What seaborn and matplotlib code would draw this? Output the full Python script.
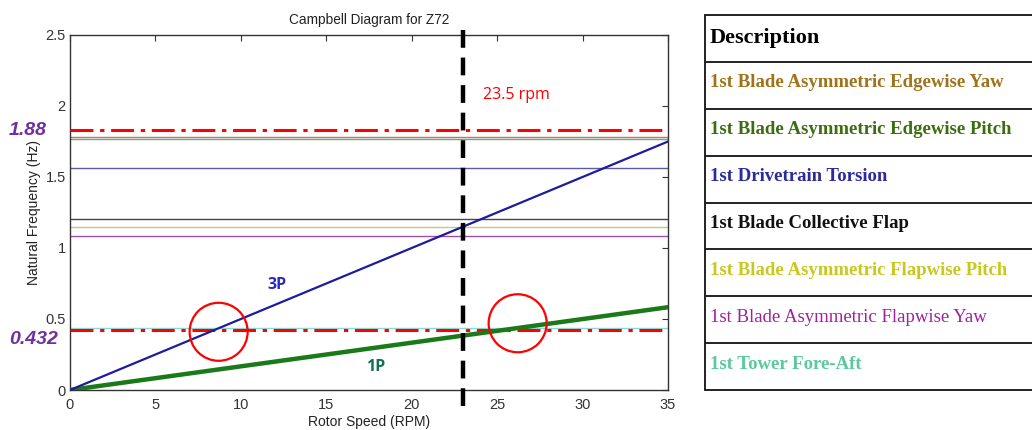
import matplotlib
matplotlib.use("Agg")
import matplotlib.pyplot as plt
import seaborn as sns
import pandas as pd

# rotor speed excitation lines (endpoints)
rpm = [0, 35]
p1_hz = [0, 0.583]
p3_hz = [0, 1.75]

# natural frequencies of the modes (Hz) and their colours
mode_names = ['1st Blade Asymmetric Edgewise Yaw', '1st Blade Asymmetric Edgewise Pitch',
              '1st Drivetrain Torsion', '1st Blade Collective Flap',
              '1st Blade Asymmetric Flapwise Pitch', '1st Blade Asymmetric Flapwise Yaw',
              '1st Tower Fore-Aft']
mode_freqs = [1.784, 1.765, 1.566, 1.202, 1.150, 1.085, 0.439]
mode_line_colors = ['#b87a60', '#7fa07f', '#5a5aa8', '#454545', '#c8c878', '#a050a8', '#8cd8d8']
mode_text_colors = ['#a0721a', '#3c6e10', '#2b2b9a', '#111111', '#c8c81e', '#a020a0', '#5cc8a0']
mode_bold = [True, True, True, True, True, False, True]

# limits and markers
limit_freqs = [1.83, 0.42]
limit_labels = ['1.88', '0.432']
limit_label_y = [131, 340]   # pixel rows of the side labels
rated_rpm = 23.0
rated_label = '23.5 rpm'
circle_x = [8.7, 26.2]
circle_y = [0.41, 0.47]

sns.set_style("white")
plt.rcParams['font.family'] = ['Liberation Sans', 'DejaVu Sans']

fig = plt.figure(figsize=(10.32, 4.30), dpi=100)
ax = fig.add_axes([70 / 1032, 40 / 430, 598 / 1032, 355 / 430])

for f, c in zip(mode_freqs, mode_line_colors):
    ax.axhline(f, color=c, lw=1.0, zorder=2)

lines = pd.DataFrame({'rpm': rpm + rpm, 'hz': p1_hz + p3_hz, 'order': ['1P', '1P', '3P', '3P']})
sns.lineplot(data=lines[lines.order == '1P'], x='rpm', y='hz', color='#1a7a1a', lw=3.2, ax=ax, zorder=4)
sns.lineplot(data=lines[lines.order == '3P'], x='rpm', y='hz', color='#1c1c9c', lw=1.6, ax=ax, zorder=4)

for f in limit_freqs:
    ax.axhline(f, color='#ff0000', lw=2.2, linestyle=(0, (7.5, 2.2, 1.4, 2.2)), zorder=3)

ax.plot([rated_rpm, rated_rpm], [-0.11, 2.57], color='black', lw=3.2,
        linestyle=(0, (4, 2.2)), clip_on=False, zorder=5)

sns.scatterplot(x=circle_x, y=circle_y, s=1745, marker='o', facecolor='none',
                edgecolor='#ff0000', linewidth=1.6, ax=ax, zorder=6)

ax.text(12.1, 0.74, '3P', color='#2a2ac0', fontsize=11.5, fontweight='bold',
        family=['Open Sans'], ha='center', va='center')
ax.text(17.9, 0.165, '1P', color='#127050', fontsize=11.5, fontweight='bold',
        family=['Open Sans'], ha='center', va='center')
ax.text(24.2, 2.08, rated_label, color='#ff0000', fontsize=11.5,
        family=['Open Sans'], ha='left', va='center')

for lab, py in zip(limit_labels, limit_label_y):
    fig.text(9 / 1032, 1 - py / 430, lab, color='#7030a0', fontsize=14,
             fontweight='bold', style='italic', family=['Liberation Sans'],
             ha='left', va='center')

ax.set_xlim(0, 35)
ax.set_ylim(0, 2.5)
ax.set_xticks(range(0, 36, 5))
ax.set_yticks([0, 0.5, 1, 1.5, 2, 2.5])
ax.set_yticklabels(['0', '0.5', '1', '1.5', '2', '2.5'])
ax.tick_params(direction='in', length=4, width=0.8, top=True, right=True,
               labelsize=10.5, colors='#333333', labelcolor='#333333', pad=3)
ax.tick_params(axis='x', pad=6)
for s in ax.spines.values():
    s.set_color('#333333')
    s.set_linewidth(1.0)
ax.set_title('Campbell Diagram for Z72', fontsize=9.8, color='#222222', pad=8)
ax.set_xlabel('Rotor Speed (RPM)', fontsize=10, color='#222222', labelpad=2)
ax.set_ylabel('Natural Frequency (Hz)', fontsize=10, color='#222222', labelpad=3)

# description table on the right
tab = fig.add_axes([705 / 1032, 40 / 430, 340 / 1032, 375 / 430])
tab.set_xlim(0, 340)
tab.set_ylim(375, 0)
tab.axis('off')
row_h = 375 / 8
for i in range(9):
    tab.plot([0, 340], [i * row_h, i * row_h], color='#222222', lw=1.4, clip_on=False)
tab.plot([0, 0], [0, 375], color='#222222', lw=1.4, clip_on=False)
tab.text(5, row_h * 0.5, 'Description', fontsize=16, fontweight='bold',
         family=['Liberation Serif'], color='black', va='center', ha='left')
for i, (name, c, b) in enumerate(zip(mode_names, mode_text_colors, mode_bold)):
    tab.text(5, row_h * (i + 1) + row_h * 0.45, name, fontsize=13.5,
             fontweight='bold' if b else 'normal', family=['Liberation Serif'],
             color=c, va='center', ha='left')

fig.savefig('out.png', dpi=100)
